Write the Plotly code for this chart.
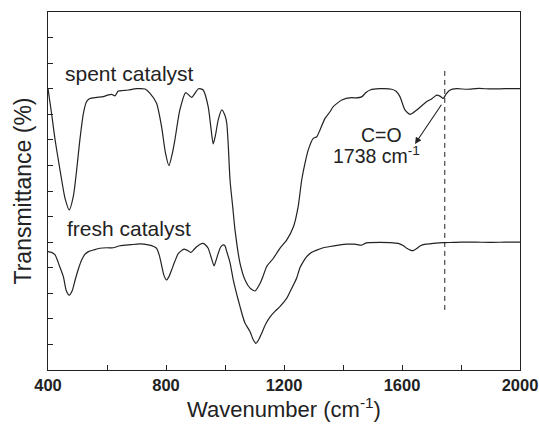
import plotly.graph_objects as go

# FTIR spectra of the catalyst, fresh and after use (offset vertically)
spent_wn = [400, 412, 424, 441, 458, 472, 486, 497, 508, 520, 531, 542, 565, 587, 605,
            616, 627, 638, 655, 672, 700, 729, 746, 768, 785, 798, 810, 822, 830, 847,
            867, 887, 910, 926, 943, 952, 960, 968, 977, 989, 1000, 1006, 1011, 1017,
            1026, 1034, 1051, 1068, 1085, 1102, 1119, 1130, 1141, 1164, 1186, 1209,
            1232, 1248, 1260, 1271, 1282, 1299, 1311, 1322, 1339, 1356, 1367, 1396,
            1429, 1445, 1463, 1478, 1492, 1525, 1565, 1580, 1593, 1610, 1627, 1650,
            1684, 1700, 1718, 1730, 1740, 1750, 1763, 1785, 1820, 1860, 1900, 1950, 2000]
spent_t = [11.0, 10.04, 9.0, 7.8, 6.7, 6.26, 6.8, 7.8, 9.0, 10.04, 10.5, 10.62, 10.66, 10.69, 10.76,
           10.78, 10.72, 10.91, 10.93, 10.95, 11.0, 10.99, 10.82, 10.43, 9.52, 8.5, 7.99, 8.5, 8.99, 10.17,
           10.85, 10.66, 11.0, 10.95, 10.3, 9.5, 8.84, 9.2, 9.78, 10.17, 9.95, 9.65, 8.8, 7.43,
           6.4, 5.47, 4.17, 3.52, 3.2, 3.09, 3.39, 3.7, 4.04, 4.37, 4.76, 5.08,
           5.6, 6.39, 7.43, 8.08, 8.6, 9.06, 9.12, 9.39, 9.84, 10.1, 10.3, 10.56,
           10.65, 10.64, 10.68, 10.85, 10.95, 11.0, 10.98, 10.9, 10.69, 10.17, 10.0, 10.17,
           10.5, 10.6, 10.75, 10.7, 10.62, 10.8, 10.95, 11.0, 10.98, 11.01, 10.99, 11.0, 11.0]

fresh_wn = [400, 412, 424, 438, 452, 462, 472, 482, 492, 503, 514, 525, 537, 556, 576,
            600, 621, 644, 680, 712, 740, 760, 768, 777, 785, 793, 802, 810, 819, 830,
            842, 861, 872, 884, 894, 904, 916, 926, 935, 943, 952, 963, 970, 977, 985,
            994, 1000, 1006, 1017, 1028, 1040, 1051, 1060, 1068, 1085, 1095, 1105, 1115,
            1124, 1138, 1153, 1170, 1186, 1209, 1220, 1243, 1254, 1266, 1277, 1294, 1311,
            1333, 1356, 1385, 1413, 1440, 1463, 1475, 1485, 1525, 1560, 1587, 1605, 1616,
            1628, 1638, 1650, 1661, 1680, 1706, 1740, 1774, 1800, 1850, 1900, 1950, 2000]
fresh_t = [4.63, 4.6, 4.5, 4.1, 3.65, 3.1, 2.93, 3.1, 3.52, 3.95, 4.3, 4.52, 4.63, 4.7, 4.76,
           4.78, 4.78, 4.86, 4.9, 4.93, 4.89, 4.82, 4.76, 4.5, 4.1, 3.7, 3.52, 3.65, 3.91, 4.25,
           4.56, 4.73, 4.68, 4.6, 4.7, 4.82, 4.92, 4.95, 4.88, 4.76, 4.45, 4.07, 4.3, 4.56, 4.8,
           4.89, 4.85, 4.63, 4.2, 3.52, 2.95, 2.48, 2.1, 1.83, 1.5, 1.2, 1.04, 1.2,
           1.43, 1.8, 2.08, 2.3, 2.48, 2.8, 3.05, 3.6, 4.0, 4.25, 4.43, 4.6, 4.69,
           4.78, 4.83, 4.88, 4.92, 4.92, 4.88, 4.95, 4.98, 4.99, 4.98, 4.95, 4.86, 4.76,
           4.69, 4.67, 4.75, 4.85, 4.92, 4.95, 4.98, 4.99, 5.0, 5.0, 4.99, 5.0, 5.0]

# C=O band marker
co_wn = 1745
co_span = [2.35, 11.8]

x_ticks = [400, 600, 800, 1000, 1200, 1400, 1600, 1800, 2000]
x_tick_text = ["400", "", "800", "", "1200", "", "1600", "", "2000"]

ink = "#222222"
font_family = "Liberation Sans, Arial, sans-serif"

fig = go.Figure()
fig.add_trace(go.Scatter(x=spent_wn, y=spent_t, mode="lines",
                         line=dict(color=ink, width=1.2, shape="spline", smoothing=0.6),
                         showlegend=False, hoverinfo="skip"))
fig.add_trace(go.Scatter(x=fresh_wn, y=fresh_t, mode="lines",
                         line=dict(color=ink, width=1.2, shape="spline", smoothing=0.6),
                         showlegend=False, hoverinfo="skip"))
fig.add_trace(go.Scatter(x=[co_wn, co_wn], y=co_span, mode="lines",
                         line=dict(color=ink, width=1, dash="5px,4px"),
                         showlegend=False, hoverinfo="skip"))

annotations = [
    dict(x=452, y=11.6, text="spent catalyst", xanchor="left", yanchor="middle",
         showarrow=False, font=dict(size=21, color=ink, family=font_family)),
    dict(x=456, y=5.53, text="fresh catalyst", xanchor="left", yanchor="middle",
         showarrow=False, font=dict(size=21, color=ink, family=font_family)),
    dict(x=1529, y=9.19, text="C=O", xanchor="center", yanchor="middle",
         showarrow=False, font=dict(size=19.5, color=ink, family=font_family)),
    dict(x=1512, y=8.41, text="1738 cm<sup>-1</sup>", xanchor="center", yanchor="middle",
         showarrow=False, font=dict(size=19.5, color=ink, family=font_family)),
    dict(x=1644, y=8.84, ax=1737, ay=10.43, xref="x", yref="y", axref="x", ayref="y",
         text="", showarrow=True, arrowhead=2, arrowsize=1.2, arrowwidth=1.1,
         arrowcolor=ink),
]

fig.update_layout(
    template="none",
    width=539, height=432,
    margin=dict(l=48, r=19, t=12, b=62, autoexpand=False),
    paper_bgcolor="white", plot_bgcolor="white",
    font=dict(family=font_family, color=ink),
    annotations=annotations,
    xaxis=dict(
        range=[400, 2000], tickvals=x_ticks, ticktext=x_tick_text,
        automargin=False,
        ticks="inside", ticklen=5, tickwidth=1.2, tickcolor=ink,
        showline=True, linecolor=ink, linewidth=1.3, mirror=True,
        showgrid=False, zeroline=False,
        tickfont=dict(size=16.5, weight="bold", color=ink, family=font_family),
        title=dict(text="Wavenumber (cm<sup>-1</sup>)", standoff=8,
                   font=dict(size=22, color=ink, family=font_family)),
    ),
    yaxis=dict(
        range=[0, 14], dtick=1, tick0=0,
        automargin=False,
        ticks="inside", ticklen=5, tickwidth=1.2, tickcolor=ink,
        showticklabels=False,
        showline=True, linecolor=ink, linewidth=1.3, mirror=True,
        showgrid=False, zeroline=False,
        title=dict(text="Transmittance (%)", standoff=8,
                   font=dict(size=23, color=ink, family=font_family)),
    ),
)

fig.write_html("out.html")
